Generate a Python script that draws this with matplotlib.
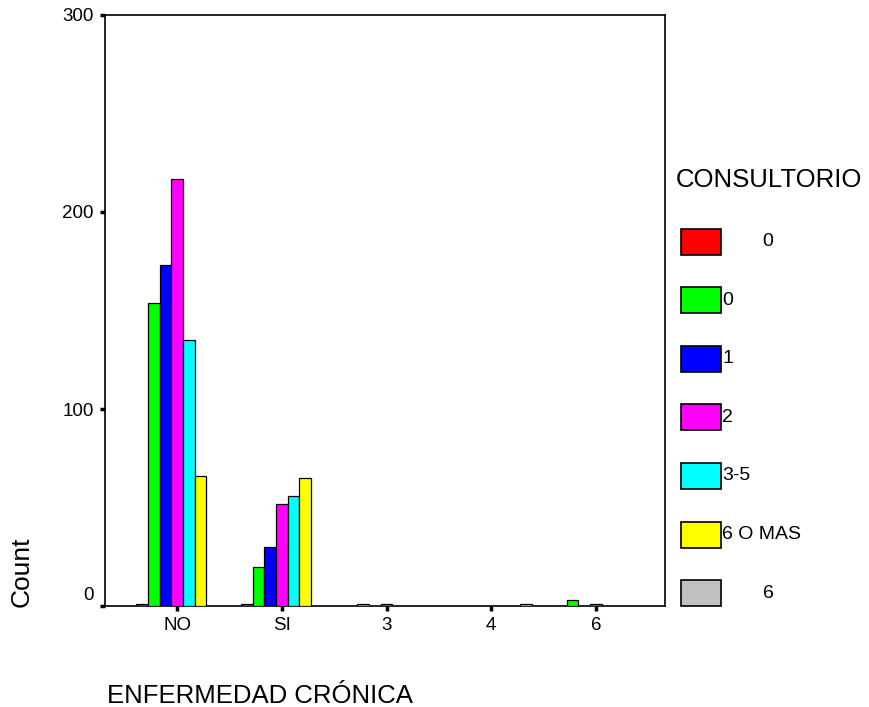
import numpy as np
import matplotlib
matplotlib.use("Agg")
import matplotlib.pyplot as plt
from matplotlib.patches import Rectangle
from matplotlib.transforms import ScaledTranslation

# categories of ENFERMEDAD CRONICA and counts per CONSULTORIO group
categories = ["NO", "SI", "3", "4", "6"]
series_labels = ["0", "0", "1", "2", "3-5", "6 O MAS", "6"]
series_colors = ["#FF0000", "#00FF00", "#0000FF", "#FF00FF", "#00FFFF", "#FFFF00", "#C0C0C0"]

red_0 = [1, 1, 0, 0, 0]
green_0 = [154, 20, 1, 0, 3]
blue_1 = [173, 30, 0, 0, 0]
magenta_2 = [217, 52, 1, 0, 1]
cyan_3_5 = [135, 56, 0, 0, 0]
yellow_6mas = [66, 65, 0, 0, 0]
gray_6 = [0, 0, 0, 1, 0]
series_values = [red_0, green_0, blue_1, magenta_2, cyan_3_5, yellow_6mas, gray_6]

W, H = 869, 707
plt.rcParams['font.family'] = ['Liberation Sans', 'DejaVu Sans']


def fx(x):
    return x / W


def fy(y):
    return (H - y) / H


fig = plt.figure(figsize=(W / 100, H / 100), dpi=100)
ax = fig.add_axes([fx(105), fy(606), fx(665) - fx(105), fy(15) - fy(606)])

x = np.arange(len(categories))
bar_w = 0.1117
n = len(series_values)
for i, vals in enumerate(series_values):
    offs = (i - (n - 1) / 2) * bar_w
    vals = np.array(vals, dtype=float)
    keep = vals > 0
    ax.bar(x[keep] + offs, vals[keep], width=bar_w, color=series_colors[i],
           edgecolor='black', linewidth=0.9, zorder=3)

ax.set_xlim(-0.688, 4.659)
ax.set_ylim(0, 300)
ax.set_yticks([0, 100, 200, 300])
ax.set_xticks(x)
ax.set_xticklabels(categories)
for s in ax.spines.values():
    s.set_linewidth(1.2)
ax.tick_params(axis='both', length=3.5, width=2.5, labelsize=13.5, pad=4.5)

# SPSS puts the "0" label slightly above the axis line
ylabs = ax.get_yticklabels()
ylabs[0].set_transform(ylabs[0].get_transform() + ScaledTranslation(0, 12 / 100, fig.dpi_scale_trans))

fig.text(fx(22), fy(607), "Count", rotation=90, ha='center', va='bottom', fontsize=19)
fig.text(fx(107), fy(703), "ENFERMEDAD CRÓNICA", ha='left', va='baseline', fontsize=18.5)

# legend drawn by hand
fig.text(fx(676), fy(187), "CONSULTORIO", ha='left', va='baseline', fontsize=18.5)
row0, row_step = 241.5, 58.6
for i, lab in enumerate(series_labels):
    cy = row0 + i * row_step
    fig.add_artist(Rectangle((fx(681), fy(cy + 13)), fx(721) - fx(681), fy(cy - 13) - fy(cy + 13),
                             transform=fig.transFigure, facecolor=series_colors[i],
                             edgecolor='black', linewidth=1.2))
    if i == 0 or i == n - 1:
        fig.text(fx(768), fy(cy), lab, ha='center', va='center', fontsize=14)
    else:
        fig.text(fx(722), fy(cy), lab, ha='left', va='center', fontsize=14)

fig.savefig("out.png", dpi=100)
